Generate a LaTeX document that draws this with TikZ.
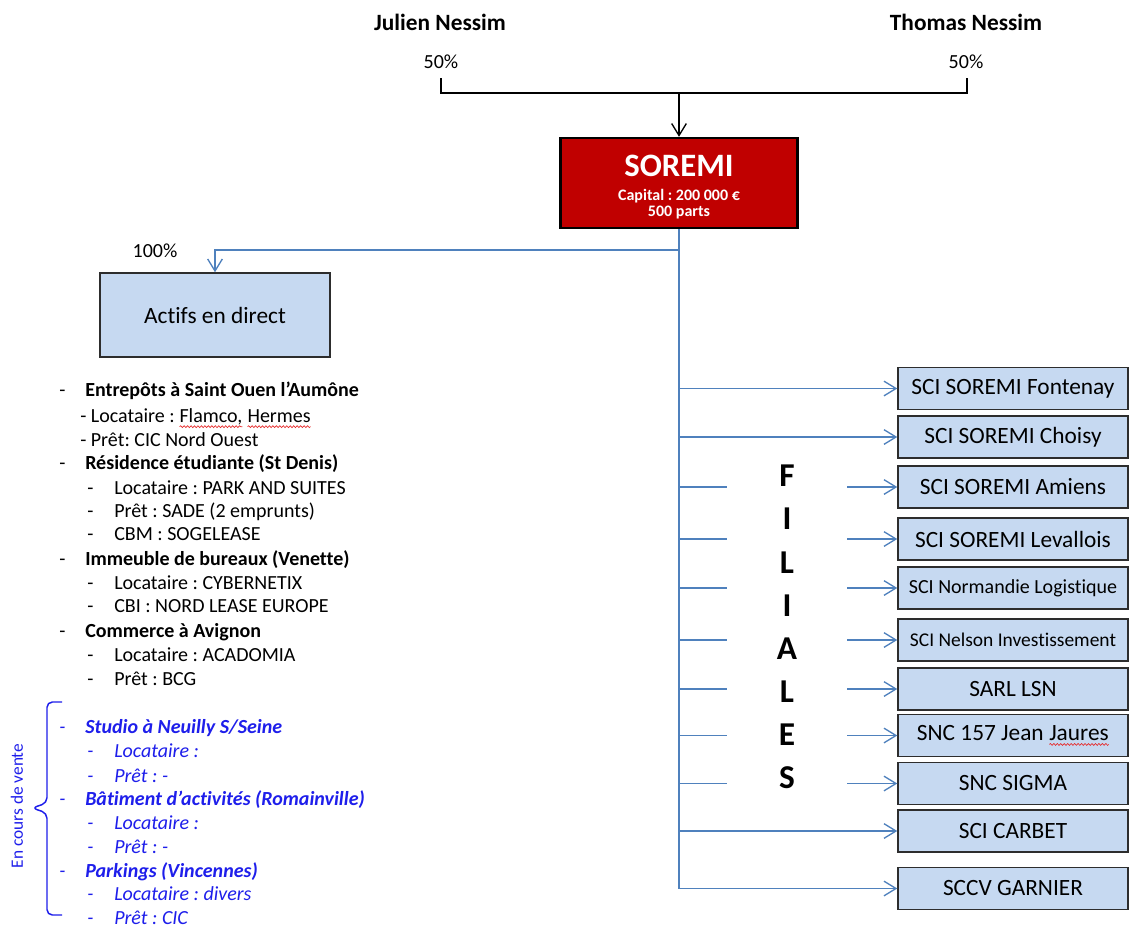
\documentclass[tikz,border=0pt]{standalone}
\usepackage{fontspec}
\setmainfont{Carlito}[Ligatures={NoCommon}]
\frenchspacing
\usetikzlibrary{arrows.meta, positioning, decorations.pathmorphing}

\definecolor{soremired}{RGB}{192,0,0}
\definecolor{boxblue}{RGB}{198,217,241}
\definecolor{linkblue}{RGB}{79,129,189}
\definecolor{saleblue}{RGB}{30,30,235}
\definecolor{boxedge}{RGB}{45,45,45}
\definecolor{spellred}{RGB}{230,40,40}

% red wavy underline of the word processor
\newcommand{\squig}[1]{\tikz[baseline=(sq.base)]{\node[inner sep=0pt, outer sep=0pt, draw=none, fill=none,
    minimum width=0pt, minimum height=0pt, text height=, text depth=] (sq) {#1};
  \draw[spellred, line width=0.5pt, decorate, decoration={snake, amplitude=0.7pt, segment length=2.6pt}]
    ([yshift=-3pt]sq.base west) -- ([yshift=-3pt]sq.base east);}}

\tikzset{
  owner/.style={draw=black, line width=1.1pt},
  link/.style={draw=linkblue, line width=1.2pt},
  openarrow/.style={-{Straight Barb[length=9pt, width=11pt, line width=1pt]}},
  filiale/.style={draw=boxedge, line width=1.1pt, fill=boxblue, minimum width=172.5pt,
    minimum height=31.5pt, inner sep=0pt},
  actifsbox/.style={filiale, minimum height=63pt, font=\fontsize{17.5}{21}\selectfont},
  soremibox/.style={draw=black, line width=1.8pt, fill=soremired, minimum width=177.75pt, minimum height=67.5pt},
  soremitext/.style={text=white, inner sep=0pt},
  ownername/.style={font=\bfseries\fontsize{17.5}{21}\selectfont},
  pct/.style={font=\fontsize{15}{18}\selectfont},
  letter/.style={font=\bfseries\fontsize{25}{30}\selectfont, inner sep=0pt},
  item/.style={anchor=west, inner sep=0pt, text height=12pt, text depth=2pt, font=\fontsize{15}{18}\selectfont},
  head/.style={item, font=\bfseries\fontsize{15}{18}\selectfont},
  sale/.style={item, text=saleblue, font=\itshape\fontsize{15}{18}\selectfont},
  salehead/.style={item, text=saleblue, font=\bfseries\itshape\fontsize{15}{18}\selectfont},
}

\begin{document}
\begin{tikzpicture}[x=0.75pt, y=-0.75pt]
  % Page
  \fill[white] (0,0) rectangle (1129,932);

  % Owners
  \node[ownername] (julien) at (440,22) {Julien Nessim};
  \node[ownername] (thomas) at (966,22) {Thomas Nessim};
  \node[pct] (pct-julien) at (441,62) {50\%};
  \node[pct] (pct-thomas) at (966,62) {50\%};

  % Holding
  \node[soremibox] (soremi) at (679,183) {};
  \node[soremitext, font=\bfseries\fontsize{24.5}{28}\selectfont] (soremi-name) at (679,166) {SOREMI};
  \node[soremitext, font=\bfseries\fontsize{12}{14}\selectfont] (soremi-capital) at (679,196) {Capital : 200 000 €};
  \node[soremitext, font=\bfseries\fontsize{12}{14}\selectfont] (soremi-parts) at (679,213) {500 parts};

  % Draw the ownership bracket
  \coordinate (tick-j) at (441,78);
  \coordinate (tick-t) at (967,78);
  \coordinate (join) at (679,93);
  \draw[owner] (tick-j) -- (tick-j |- join) -- (tick-t |- join) -- (tick-t);
  \draw[owner, openarrow] (join) -- (soremi.north);

  % Direct assets
  \node[actifsbox] (actifs) at (215,315) {Actifs en direct};
  \node[pct] (pct-actifs) at (155,251) {100\%};
  \coordinate (branch) at (679,250);
  \draw[link, openarrow] (branch) -| (actifs.north);

  % Subsidiaries
  \foreach \nm/\yy/\fs/\lbl in {fontenay/388.5/17.5/SCI SOREMI Fontenay, choisy/437/17.5/SCI SOREMI Choisy,
      amiens/487/17.5/SCI SOREMI Amiens, levallois/539/17.5/SCI SOREMI Levallois,
      normandie/588/15/SCI Normandie Logistique, nelson/640/14.6/SCI Nelson Investissement,
      lsn/689/17.5/SARL LSN, jaures/735.5/17.5/{SNC 157 Jean \squig{Jaures}},
      sigma/783.5/17.5/SNC SIGMA, carbet/831/17.5/SCI CARBET, garnier/888.5/17.5/SCCV GARNIER}
    \node[filiale, font=\fontsize{\fs}{\fs}\selectfont] (\nm) at (1013,\yy) {\lbl};

  % FILIALES written downwards
  \foreach \ch [count=\i] in {F,I,L,I,A,L,E,S}
    \node[letter] (letter-\i) at ({787},{476+43.1*(\i-1)}) {\ch};

  % Draw the links
  \coordinate (gap-left) at (727,0);
  \coordinate (gap-right) at (847,0);
  \draw[link, openarrow] (soremi.south) |- (garnier.west);
  \foreach \nm in {fontenay, choisy, carbet}
    \draw[link, openarrow] (soremi.south |- \nm.west) -- (\nm.west);
  \foreach \nm in {amiens, levallois, normandie, nelson, lsn, jaures, sigma} {
    \draw[link] (soremi.south |- \nm.west) -- (gap-left |- \nm.west);
    \draw[link, openarrow] (gap-right |- \nm.west) -- (\nm.west);
  }

  % List of the direct assets
  \foreach \yy/\txt [count=\i] in {390/{Entrepôts à Saint Ouen l’Aumône}, 463/{Résidence étudiante (St Denis)},
      559/{Immeuble de bureaux (Venette)}, 631/{Commerce à Avignon}} {
    \node[item] (head-dash-\i) at (59,\yy) {-};
    \node[head] (head-\i) at (85,\yy) {\txt};
  }
  \node[item] (loc-flamco) at (80,416) {- Locataire : \squig{Flamco,} \squig{Hermes}};
  \node[item] (pret-cic) at (80,440) {- Prêt: CIC Nord Ouest};
  \foreach \yy/\txt [count=\i] in {488/{Locataire : PARK AND SUITES}, 511/{Prêt : SADE (2 emprunts)},
      534/{CBM : SOGELEASE}, 583/{Locataire : CYBERNETIX}, 606/{CBI : NORD LEASE EUROPE},
      655/{Locataire : ACADOMIA}, 679/{Prêt : BCG}} {
    \node[item] (sub-dash-\i) at (87,\yy) {-};
    \node[item] (sub-\i) at (114,\yy) {\txt};
  }

  % Assets being sold
  \foreach \yy/\txt [count=\i] in {727/{Studio à Neuilly S/Seine}, 799/{Bâtiment d’activités (Romainville)},
      871/{Parkings (Vincennes)}} {
    \node[sale] (sale-dash-\i) at (59,\yy) {-};
    \node[salehead] (sale-head-\i) at (85,\yy) {\txt};
  }
  \foreach \yy/\txt [count=\i] in {751/{Locataire :}, 776/{Prêt : -}, 823/{Locataire :}, 847/{Prêt : -},
      894/{Locataire : divers}, 918/{Prêt : CIC}} {
    \node[sale] (sale-sub-dash-\i) at (87,\yy) {-};
    \node[sale] (sale-sub-\i) at (114,\yy) {\txt};
  }

  % Draw the brace
  \draw[saleblue, line width=1.1pt, rounded corners=4pt] (62,702) -- (47,702) -- (47,803) -- (32,808)
    -- (47,813) -- (47,915) -- (62,915);
  \node[text=saleblue, rotate=90, font=\fontsize{13}{15}\selectfont] (en-vente) at (17,806) {En cours de vente};
\end{tikzpicture}
\end{document}
